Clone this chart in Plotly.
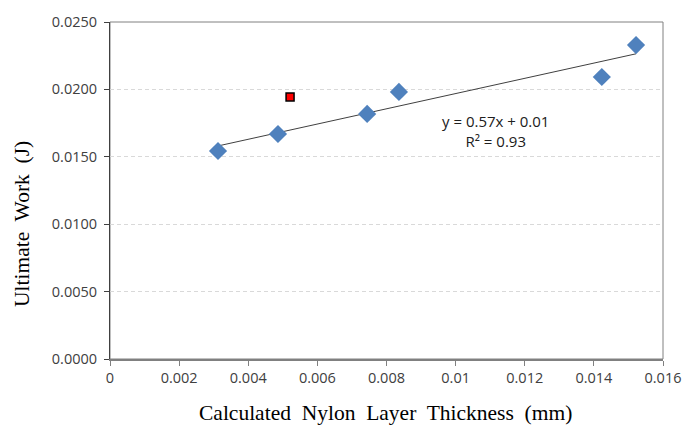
import numpy as np
import plotly.graph_objects as go

# Data
thickness = [0.003125, 0.00486, 0.00744, 0.00836, 0.01423, 0.01522]
work = [0.01543, 0.01669, 0.01818, 0.01981, 0.02092, 0.02329]
outlier_x = [0.00521]
outlier_y = [0.01944]

x_tickvals = [0, 0.002, 0.004, 0.006, 0.008, 0.010, 0.012, 0.014, 0.016]
x_ticktext = ["0", "0.002", "0.004", "0.006", "0.008", "0.01", "0.012", "0.014", "0.016"]
y_tickvals = [0, 0.005, 0.010, 0.015, 0.020, 0.025]
y_ticktext = ["0.0000", "0.0050", "0.0100", "0.0150", "0.0200", "0.0250"]

# Linear trendline fitted to blue points
slope, intercept = np.polyfit(thickness, work, 1)
tx = [min(thickness), max(thickness)]
ty = [slope * v + intercept for v in tx]

W, H = 683, 429
L, R, T, B = 110, 20, 22, 70
PW, PH = W - L - R, H - T - B


def px_to_paper(px, py):
    return (px - L) / PW, (H - B - py) / PH


fig = go.Figure()
fig.add_trace(go.Scatter(x=tx, y=ty, mode="lines",
                         line=dict(color="#404040", width=1), hoverinfo="skip"))
fig.add_trace(go.Scatter(x=thickness, y=work, mode="markers",
                         marker=dict(symbol="diamond", size=14, color="#4F81BD",
                                     line=dict(width=0))))
fig.add_trace(go.Scatter(x=outlier_x, y=outlier_y, mode="markers",
                         marker=dict(symbol="square", size=8, color="#FF0000",
                                     line=dict(width=1.5, color="#000000"))))

fig.add_annotation(x=0.01114, y=0.0169, xref="x", yref="y",
                   xanchor="center", yanchor="middle",
                   text="y = 0.57x + 0.01<br>R² = 0.93", showarrow=False,
                   font=dict(family="Open Sans", size=15, color="#202020"),
                   align="center")

titlefont = dict(family="Liberation Serif", size=21.5, color="#000000")
ax, ay = px_to_paper(385, 413)
fig.add_annotation(x=ax, y=ay, xref="paper", yref="paper",
                   xanchor="center", yanchor="middle",
                   text="Calculated  Nylon  Layer  Thickness  (mm)", showarrow=False,
                   font=titlefont)
bx, by = px_to_paper(22, 224)
fig.add_annotation(x=bx, y=by, xref="paper", yref="paper",
                   xanchor="center", yanchor="middle",
                   text="Ultimate  Work  (J)", showarrow=False, textangle=-90,
                   font=titlefont)

tickfont = dict(family="Open Sans", size=14.5, color="#404040")

fig.update_layout(
    width=W, height=H,
    margin=dict(l=L, r=R, t=T, b=B, autoexpand=False),
    paper_bgcolor="white", plot_bgcolor="white",
    showlegend=False,
    xaxis=dict(range=[0, 0.016], tickvals=x_tickvals, ticktext=x_ticktext,
               tickfont=tickfont, ticks="outside", ticklen=5, tickcolor="#808080",
               showgrid=False, zeroline=False, automargin=False,
               showline=True, linecolor="#808080", linewidth=1.5, mirror=False),
    yaxis=dict(range=[0, 0.025], tickvals=y_tickvals, ticktext=y_ticktext,
               tickfont=tickfont, ticks="outside", ticklen=5, tickcolor="#404040",
               ticklabelstandoff=4, automargin=False,
               showgrid=True, gridcolor="#D9D9D9", griddash="4px,3px", gridwidth=1,
               zeroline=False, showline=True, linecolor="#404040", linewidth=1),
)
# Top and right frame
fig.add_shape(type="rect", xref="paper", yref="paper", x0=0, y0=0, x1=1, y1=1,
              line=dict(color="#808080", width=1), layer="below")

fig.write_html("out.html", config={"displayModeBar": False},
               post_script="document.body.style.margin='0';")
